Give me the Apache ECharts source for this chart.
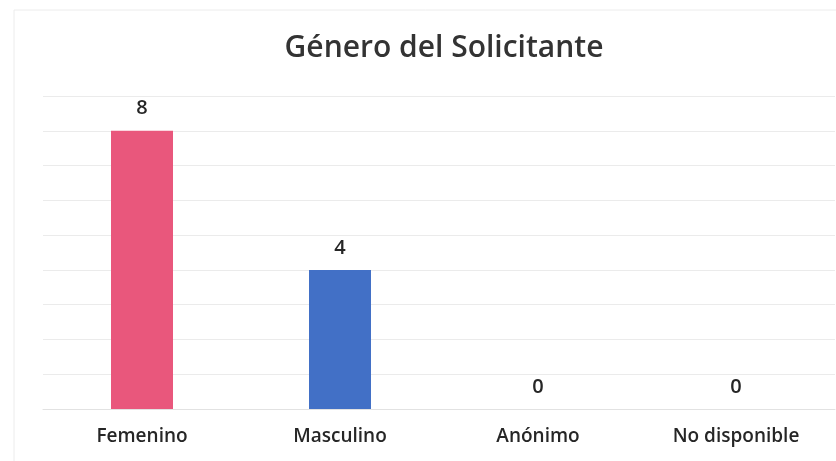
<!DOCTYPE html>
<html>
<head>
<meta charset="utf-8">
<script src="https://cdn.jsdelivr.net/npm/echarts@6/dist/echarts.min.js"></script>
<style>
  html, body { margin: 0; padding: 0; background: #fff; }
  #chart { width: 836px; height: 461px; }
</style>
</head>
<body>
<div id="chart"></div>
<script>
const categories = ['Femenino', 'Masculino', 'Anónimo', 'No disponible'];
const values = [8, 4, 0, 0];
const barColors = ['#e9577c', '#4270c6', '#4270c6', '#4270c6'];
const titleText = 'Género del Solicitante';

const chart = echarts.init(document.getElementById('chart'));

chart.setOption({
  backgroundColor: '#fff',
  animation: false,
  title: {
    text: titleText,
    left: 439,
    textAlign: 'center',
    top: 28,
    textStyle: { fontFamily: 'Open Sans', fontSize: 30, fontWeight: 600, color: '#333' }
  },
  graphic: [{
    type: 'rect',
    shape: { x: 14, y: 10, width: 840, height: 470 },
    style: { fill: 'none', stroke: '#ececec', lineWidth: 1 },
    silent: true
  }],
  grid: { left: 43, right: 1, top: 96, bottom: 52 },
  xAxis: {
    type: 'category',
    data: categories,
    axisLine: { show: true, lineStyle: { color: '#e2e2e2' } },
    axisTick: { show: false },
    axisLabel: { margin: 18, fontFamily: 'Open Sans', fontSize: 19, fontWeight: 600, color: '#262626' }
  },
  yAxis: {
    type: 'value',
    min: 0,
    max: 9,
    interval: 1,
    axisLabel: { show: false },
    axisLine: { show: false },
    axisTick: { show: false },
    splitLine: { lineStyle: { color: '#ebebeb' } }
  },
  series: [{
    type: 'bar',
    data: values.map((v, i) => ({ value: v, itemStyle: { color: barColors[i] } })),
    barWidth: 62,
    label: {
      show: true,
      position: 'top',
      distance: 12,
      fontFamily: 'Open Sans',
      fontSize: 20,
      fontWeight: 600,
      color: '#262626'
    }
  }]
});
</script>
</body>
</html>
